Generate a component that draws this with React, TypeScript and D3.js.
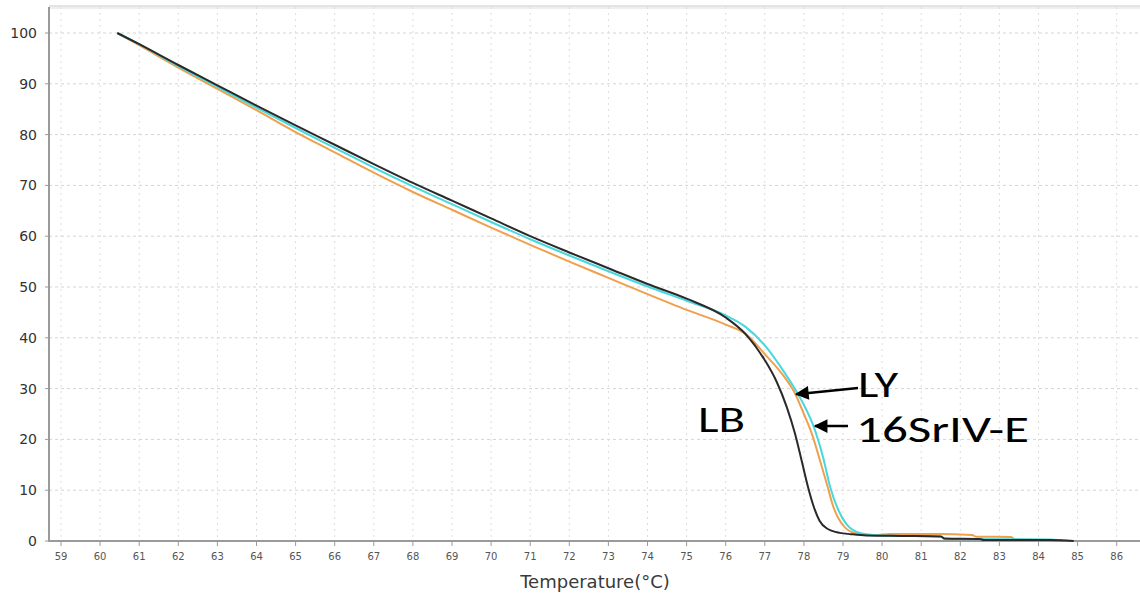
import React from "react";
import * as d3 from "d3";

// Melt curves: temperature (°C) vs normalised fluorescence (%)
const lbTemp = [60.44, 61, 62, 63, 64, 65, 66, 67, 68, 69, 70, 71, 72, 73, 74, 75, 76, 76.5, 77, 77.3, 77.56, 77.77, 77.94, 78.11, 78.25, 78.4, 78.58, 78.92, 79.2, 79.6, 80.5, 81.5, 81.6, 82.5, 82.6, 84.3, 84.9];
const lbValue = [100, 97.8, 93.7, 89.7, 85.7, 81.8, 78.0, 74.2, 70.5, 67.0, 63.5, 60.0, 56.8, 53.7, 50.6, 47.7, 44.0, 40.8, 35.6, 31.4, 26.4, 21.2, 15.9, 10.5, 6.8, 4.0, 2.5, 1.6, 1.35, 1.1, 1.0, 0.9, 0.5, 0.4, 0.2, 0.2, 0.0];

const lyTemp = [60.44, 61, 62, 63, 64, 65, 66, 67, 68, 69, 70, 71, 72, 73, 74, 75, 76, 76.54, 77.0, 77.5, 77.77, 78.0, 78.2, 78.41, 78.58, 78.75, 79.0, 79.33, 79.8, 80.2, 81.4, 82.3, 82.4, 83.3, 83.4, 84.6];
const lyValue = [100, 97.6, 93.2, 89.0, 84.8, 80.5, 76.5, 72.5, 68.7, 65.2, 61.7, 58.3, 55.0, 51.8, 48.6, 45.5, 42.6, 40.6, 36.8, 32.3, 29.1, 25.0, 21.2, 15.9, 11.4, 6.8, 3.1, 1.5, 1.2, 1.4, 1.4, 1.2, 0.85, 0.8, 0.3, 0.2];

const srTemp = [60.44, 61, 62, 63, 64, 65, 66, 67, 68, 69, 70, 71, 72, 73, 74, 75, 76, 76.5, 77.0, 77.5, 77.75, 78.0, 78.25, 78.5, 78.67, 78.88, 79.1, 79.43, 80.0, 81.5, 81.6, 84.3, 84.5];
const srValue = [100, 97.8, 93.5, 89.4, 85.3, 81.3, 77.4, 73.5, 69.8, 66.3, 62.8, 59.4, 56.2, 53.1, 50.1, 47.3, 44.4, 42.2, 38.5, 33.2, 30.2, 26.8, 22.5, 16.2, 10.7, 6.1, 3.2, 1.6, 1.1, 0.9, 0.4, 0.3, 0.2];

const xTicks = d3.range(59, 87);
const yTicks = [0, 10, 20, 30, 40, 50, 60, 70, 80, 90, 100];

const series = [
  { name: "LY", temp: lyTemp, value: lyValue, color: "#f0a04c" },
  { name: "16SrIV-E", temp: srTemp, value: srValue, color: "#47d8de" },
  { name: "LB", temp: lbTemp, value: lbValue, color: "#2a2a2a" },
];

const W = 1140;
const H = 595;
const left = 49;
const right = 1140;
const top = 7;
const bottom = 541;

export default function App() {
  const x = d3.scaleLinear().domain([59, 86]).range([61, 1116.7]);
  const y = d3.scaleLinear().domain([0, 100]).range([bottom, 33]);

  const line = (temp: number[], value: number[]) =>
    d3
      .line<number>()
      .x((_, i) => x(temp[i]))
      .y((v) => y(v))
      .curve(d3.curveMonotoneX)(value) || "";

  const ly = { x: x(77.78), y: y(28.9) };
  const sr = { x: x(78.26), y: y(22.5) };

  return (
    <svg
      width={W}
      height={H}
      style={{ position: "absolute", left: 0, top: 0, background: "#fff" }}
      fontFamily="DejaVu Sans, sans-serif"
    >
      <defs>
        <marker id="arrowHead" viewBox="0 0 10 10" refX="9" refY="5" markerWidth="7" markerHeight="5.5" orient="auto" markerUnits="strokeWidth">
          <path d="M0,0 L10,5 L0,10 z" fill="#000" />
        </marker>
      </defs>

      {/* grid */}
      {yTicks.map((t) => (
        <line key={"gy" + t} x1={left} x2={right} y1={y(t)} y2={y(t)} stroke="#d4d4d4" strokeWidth={1} strokeDasharray="3,3" />
      ))}
      {xTicks.map((t) => (
        <line key={"gx" + t} x1={x(t)} x2={x(t)} y1={top} y2={bottom} stroke="#dcdcdc" strokeWidth={1} strokeDasharray="2,4" />
      ))}

      {/* frame */}
      <line x1={left} x2={right} y1={top - 1} y2={top - 1} stroke="#c8c8c8" strokeWidth={1} />
      <line x1={left} x2={right} y1={top + 1} y2={top + 1} stroke="#dddddd" strokeWidth={1} />
      <line x1={left} x2={left} y1={top} y2={bottom + 1} stroke="#9a9a9a" strokeWidth={2} />
      <line x1={left} x2={right} y1={bottom} y2={bottom} stroke="#9a9a9a" strokeWidth={2} />

      {/* y axis */}
      {yTicks.map((t) => (
        <g key={"yt" + t}>
          <line x1={left - 4} x2={left} y1={y(t)} y2={y(t)} stroke="#9a9a9a" strokeWidth={1} />
          <text x={37} y={y(t)} dy="0.36em" textAnchor="end" fontSize={14} fill="#333">
            {t}
          </text>
        </g>
      ))}

      {/* x axis */}
      {xTicks.map((t) => (
        <g key={"xt" + t}>
          <line x1={x(t)} x2={x(t)} y1={bottom} y2={bottom + 5} stroke="#9a9a9a" strokeWidth={1} />
          <text x={x(t)} y={560} textAnchor="middle" fontSize={10} fill="#555">
            {t}
          </text>
        </g>
      ))}
      <text x={595} y={588} textAnchor="middle" fontSize={18} fill="#3a3a3a">
        Temperature(°C)
      </text>

      {/* curves */}
      {series.map((s) => (
        <path key={s.name} d={line(s.temp, s.value)} fill="none" stroke={s.color} strokeWidth={2} strokeLinejoin="round" />
      ))}

      {/* annotations */}
      <line x1={858} y1={388} x2={ly.x + 1} y2={ly.y} stroke="#000" strokeWidth={2.5} markerEnd="url(#arrowHead)" />
      <line x1={848} y1={426} x2={sr.x + 1} y2={426} stroke="#000" strokeWidth={2.5} markerEnd="url(#arrowHead)" />
      <g fontFamily="Carlito, Lato, 'Open Sans', sans-serif" fontSize={37} fill="#000">
        <text x={858} y={397} textLength={40} lengthAdjust="spacingAndGlyphs">LY</text>
        <text x={856} y={442} textLength={173} lengthAdjust="spacingAndGlyphs">16SrIV-E</text>
        <text x={698} y={432} textLength={47} lengthAdjust="spacingAndGlyphs">LB</text>
      </g>
    </svg>
  );
}
